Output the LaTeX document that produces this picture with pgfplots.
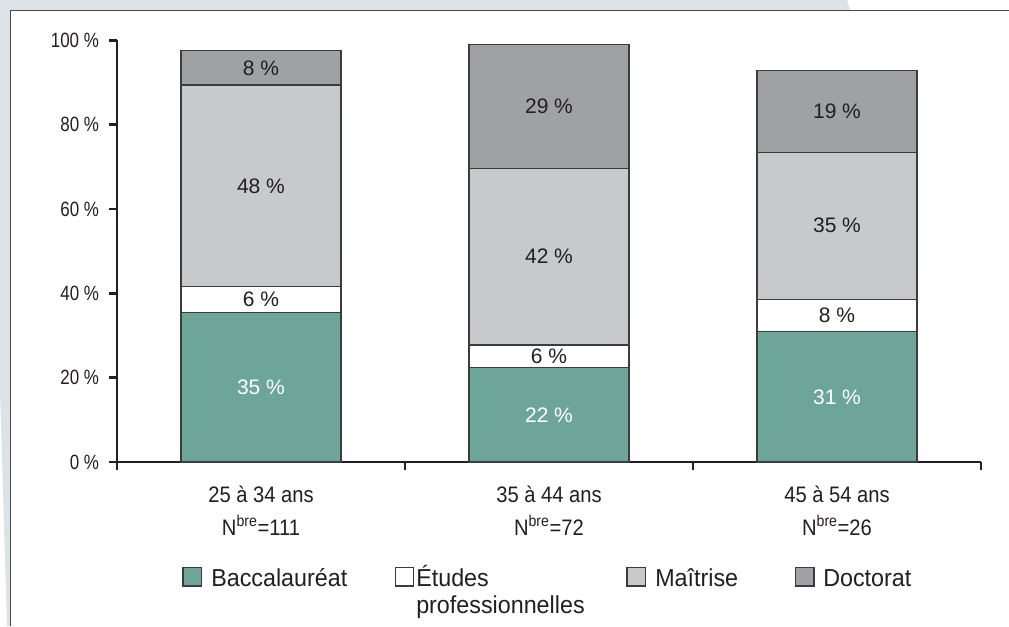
\documentclass[border=0pt]{standalone}
\usepackage{fontspec}
\setmainfont{Liberation Sans}
\newfontfamily\tickf[FakeStretch=0.82]{Liberation Sans}
\newfontfamily\catf[FakeStretch=0.9]{Liberation Sans}
\newfontfamily\legf[FakeStretch=0.95]{Liberation Sans}
\usepackage{pgfplots}
\pgfplotsset{compat=1.18}
\definecolor{bgc}{HTML}{DCE3E6}
\definecolor{bordc}{HTML}{4A4A4A}
\definecolor{axc}{HTML}{231F20}
\definecolor{bac}{HTML}{6EA59A}
\definecolor{mai}{HTML}{C8C9CB}
\definecolor{doc}{HTML}{A0A1A4}
\definecolor{edgec}{HTML}{3C3C3C}
\definecolor{txt}{HTML}{231F20}
\newcommand\cat[2]{\begin{tabular}[t]{@{}c@{}}#1\\N\textsuperscript{bre}=#2\end{tabular}}
\begin{document}
\begin{tikzpicture}
\begin{scope}[x=0.75pt,y=-0.75pt]
\fill[white] (0,0) rectangle (1009,626);
\fill[bgc] (0,0) -- (847,0) -- (850,10) -- (10,10) -- (10,626) -- (7,626) -- (0,390) -- cycle;
\draw[bordc, line width=1.2pt] (10.5,626) -- (10.5,10.5) -- (1009,10.5);
\end{scope}
\begin{axis}[
 at={(87.75pt,-346.5pt)}, anchor=south west,
 scale only axis, width=648pt, height=316.2pt,
 xmin=-0.5, xmax=2.5, ymin=0, ymax=100,
 ybar stacked, bar width=120pt,
 axis x line*=bottom, axis y line*=left,
 axis line style={line width=1.9pt, color=axc},
 clip=false,
 tick align=outside,
 major tick length=6pt,
 tick style={line width=1.9pt, color=axc},
 ytick={0,20,40,60,80,100},
 yticklabels={0 \%,20 \%,40 \%,60 \%,80 \%,100 \%},
 yticklabel style={font=\tickf\fontsize{15.5}{15.5}\selectfont, text=txt, anchor=east, xshift=-4pt},
 xtick={-0.5,0.5,1.5,2.5},
 xticklabels={},
 extra x ticks={0,1,2},
 extra x tick labels={{\cat{25 à 34 ans}{111}},{\cat{35 à 44 ans}{72}},{\cat{45 à 54 ans}{26}}},
 extra x tick style={major tick length=0pt, tick style={draw=none},
   xticklabel style={font=\catf\fontsize{16.8}{24.75}\selectfont, text=txt, anchor=base, inner sep=0pt, yshift=-30pt}},
]
\addplot[fill=bac, draw=edgec, line width=1.1pt] coordinates {(0,35.5) (1,22.4) (2,30.9)};
\addplot[fill=white, draw=edgec, line width=1.1pt] coordinates {(0,6.1) (1,5.4) (2,7.7)};
\addplot[fill=mai, draw=edgec, line width=1.1pt] coordinates {(0,47.8) (1,41.8) (2,34.8)};
\addplot[fill=doc, draw=edgec, line width=1.1pt] coordinates {(0,8.2) (1,29.4) (2,19.5)};
\coordinate (a1) at (axis cs:0,17.75);
\coordinate (a2) at (axis cs:0,38.55);
\coordinate (a3) at (axis cs:0,65.5);
\coordinate (a4) at (axis cs:0,93.5);
\coordinate (b1) at (axis cs:1,11.2);
\coordinate (b2) at (axis cs:1,25.1);
\coordinate (b3) at (axis cs:1,48.7);
\coordinate (b4) at (axis cs:1,84.3);
\coordinate (c1) at (axis cs:2,15.45);
\coordinate (c2) at (axis cs:2,34.75);
\coordinate (c3) at (axis cs:2,56.05);
\coordinate (c4) at (axis cs:2,83.15);
\end{axis}
\begin{scope}[every node/.style={font=\fontsize{15.75}{16}\selectfont, text=txt}]
\node[text=white] at (a1) {35 \%};
\node at (a2) {6 \%};
\node at (a3) {48 \%};
\node at (a4) {8 \%};
\node[text=white] at (b1) {22 \%};
\node at (b2) {6 \%};
\node at (b3) {42 \%};
\node at (b4) {29 \%};
\node[text=white] at (c1) {31 \%};
\node at (c2) {8 \%};
\node at (c3) {35 \%};
\node at (c4) {19 \%};
\end{scope}
\begin{scope}[x=0.75pt,y=-0.75pt, every node/.style={font=\legf\fontsize{18.4}{20}\selectfont, text=txt, inner sep=0pt}]
\filldraw[fill=bac, draw=edgec, line width=1pt] (183,567.5) rectangle (201.5,586);
\node[anchor=base west] at (211,586) {Baccalauréat};
\filldraw[fill=white, draw=edgec, line width=1pt] (395.5,567.5) rectangle (413.5,586);
\node[anchor=base west] at (416,586) {Études};
\node[anchor=base west] at (416,613) {professionnelles};
\filldraw[fill=mai, draw=edgec, line width=1pt] (627,567.5) rectangle (645.5,586);
\node[anchor=base west] at (655,586) {Maîtrise};
\filldraw[fill=doc, draw=edgec, line width=1pt] (795.5,567.5) rectangle (814,586);
\node[anchor=base west] at (823,586) {Doctorat};
\end{scope}
\pgfresetboundingbox
\path[use as bounding box] (0,0) rectangle (756.75pt,-469.5pt);
\end{tikzpicture}
\end{document}
